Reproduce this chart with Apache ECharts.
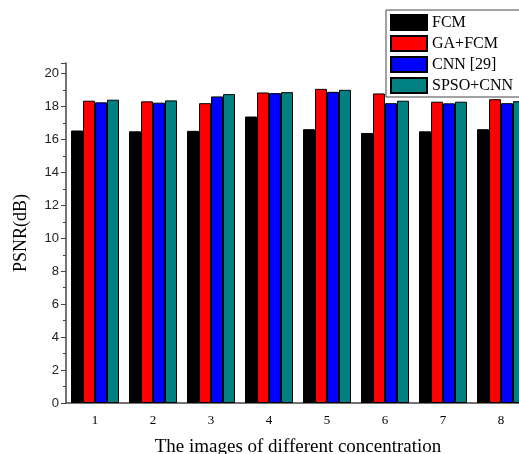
<!DOCTYPE html>
<html>
<head>
    <meta charset="UTF-8">
    <title>PSNR</title>
    <script src="https://cdn.jsdelivr.net/npm/echarts@6/dist/echarts.min.js"></script>
    <style>
        html, body { margin: 0; padding: 0; background: #fff; }
        #chart { width: 519px; height: 454px; }
    </style>
</head>
<body>
    <div id="chart"></div>
    <script>
        // data
        const images = ['1', '2', '3', '4', '5', '6', '7', '8'];
        const fcm = [16.55, 16.50, 16.53, 17.40, 16.63, 16.40, 16.50, 16.63];
        const gaFcm = [18.36, 18.32, 18.21, 18.86, 19.08, 18.80, 18.30, 18.45];
        const cnn29 = [18.26, 18.24, 18.62, 18.82, 18.90, 18.21, 18.20, 18.21];
        const spsoCnn = [18.42, 18.38, 18.76, 18.88, 19.02, 18.36, 18.30, 18.33];

        const chart = echarts.init(document.getElementById('chart'));

        function bar(name, data, color) {
            return {
                name: name,
                type: 'bar',
                data: data,
                barWidth: 12,
                barGap: '0%',
                itemStyle: { color: color, borderColor: '#000', borderWidth: 1 }
            };
        }

        const serif = '"Liberation Serif", "Times New Roman", serif';
        const sans = '"Liberation Sans", Arial, sans-serif';

        chart.setOption({
            animation: false,
            grid: { left: 66, right: -11, top: 63, bottom: 51, outerBoundsMode: 'none', containLabel: false },
            legend: {
                orient: 'vertical',
                left: 386,
                top: 10,
                padding: [4, 30, 3, 4],
                icon: 'rect',
                itemWidth: 36,
                itemHeight: 15,
                itemGap: 4,
                borderColor: '#444',
                borderWidth: 1,
                textStyle: { fontFamily: serif, fontSize: 16, color: '#000' }
            },
            xAxis: [{
                type: 'category',
                data: images,
                name: 'The images of different concentration',
                nameLocation: 'middle',
                nameGap: 35,
                nameTextStyle: { fontFamily: serif, fontSize: 19, color: '#000' },
                axisLine: { lineStyle: { color: '#444', width: 1.5 } },
                axisTick: { alignWithLabel: true, length: 5, lineStyle: { color: '#444' } },
                axisLabel: { fontFamily: serif, fontSize: 13, color: '#000', margin: 11 }
            }, {
                type: 'category',
                data: images,
                position: 'bottom',
                axisLine: { show: false },
                axisTick: { inside: true, length: 3, lineStyle: { color: '#444' } },
                axisLabel: { show: false }
            }],
            yAxis: {
                type: 'value',
                min: 0,
                max: 20.65,
                interval: 2,
                name: 'PSNR(dB)',
                nameLocation: 'middle',
                nameGap: 36,
                nameTextStyle: { fontFamily: serif, fontSize: 18, color: '#000' },
                splitLine: { show: false },
                axisLine: { show: true, lineStyle: { color: '#444', width: 1.5 } },
                axisTick: { show: true, length: 5, lineStyle: { color: '#444' } },
                minorTick: { show: true, splitNumber: 2, length: 3, lineStyle: { color: '#444' } },
                axisLabel: {
                    fontFamily: sans, fontSize: 13, color: '#222', margin: 7,
                    formatter: v => (v % 2 === 0 ? String(v) : '')
                }
            },
            series: [
                bar('FCM', fcm, '#000000'),
                bar('GA+FCM', gaFcm, '#ff0000'),
                bar('CNN [29]', cnn29, '#0000ff'),
                bar('SPSO+CNN', spsoCnn, '#008080')
            ]
        });
    </script>
</body>
</html>
